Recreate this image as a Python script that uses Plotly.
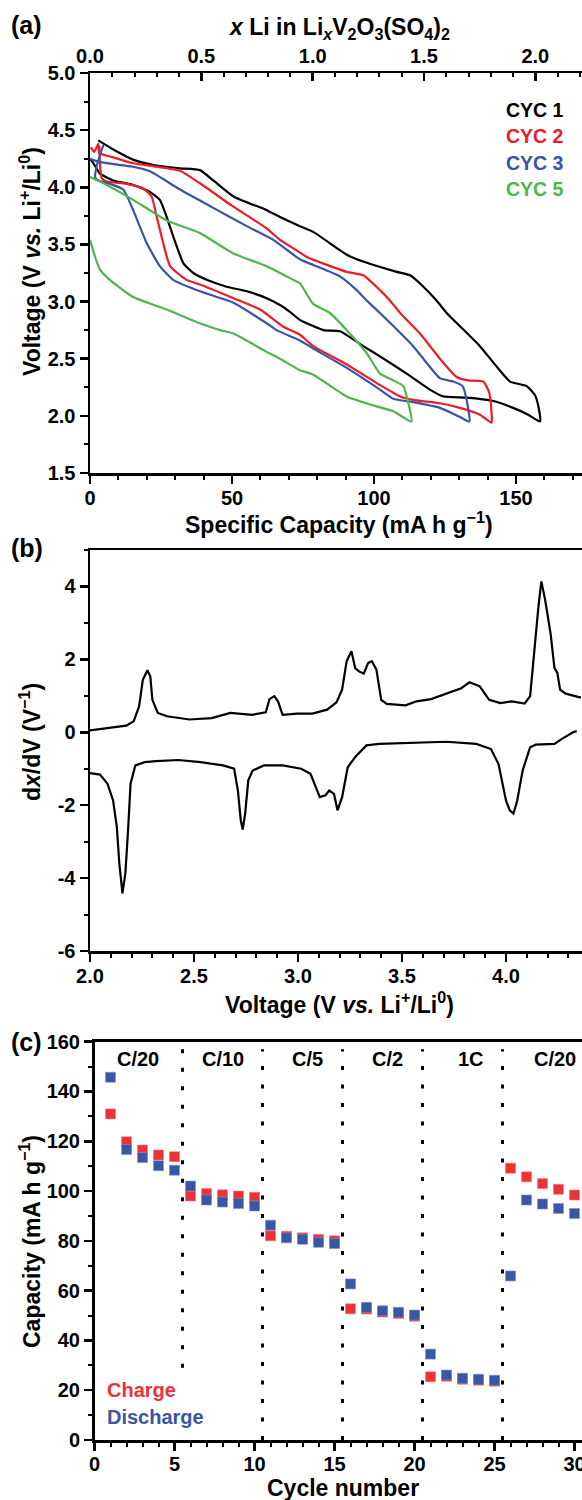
import plotly.graph_objects as go

# ---------------- Panel (a): voltage profiles ----------------
cyc1_cap = [2.9, 8.2, 15.3, 22.3, 31.7, 38.7, 43.4, 50.5, 62.2, 66.9, 73.9, 78.6, 90.4, 96.2, 108.0, 112.7,
            117.4, 122.0, 125.6, 137.3, 143.2, 147.9, 153.8, 156.7, 157.9, 158.5,
            154.3, 149.0, 142.0, 132.6, 124.4, 119.7, 111.5, 102.1, 96.2, 88.0, 82.2, 73.9, 70.4, 66.9,
            62.2, 55.2, 48.1, 41.1, 36.4, 32.9, 29.3, 27.0, 24.6, 21.1, 15.2, 8.2, 3.5, 1.2, 0.0]
cyc1_v = [4.41, 4.33, 4.24, 4.195, 4.166, 4.15, 4.06, 3.92, 3.80, 3.74, 3.66, 3.61, 3.41, 3.35, 3.26, 3.23,
          3.13, 3.01, 2.90, 2.61, 2.43, 2.30, 2.26, 2.18, 2.08, 1.95,
          2.01, 2.07, 2.13, 2.16, 2.17, 2.23, 2.37, 2.52, 2.61, 2.74, 2.75, 2.84, 2.91, 2.97,
          3.03, 3.09, 3.13, 3.19, 3.25, 3.335, 3.57, 3.74, 3.89, 3.96, 4.02, 4.06, 4.12, 4.21, 4.25]

cyc2_cap = [0.3, 1.5, 2.9, 3.2, 7.0, 15.2, 23.5, 31.7, 38.7, 50.5, 62.2, 66.9, 73.9, 76.3, 90.4, 96.2,
            102.1, 105.6, 109.2, 116.2, 123.2, 129.1, 133.2, 138.5, 140.6, 141.4, 141.4,
            137.3, 130.3, 123.2, 113.8, 109.2, 102.1, 90.4, 78.6, 73.9, 68.1, 59.9, 50.5, 38.7, 34.0,
            28.2, 25.8, 23.5, 21.7, 18.8, 12.9, 5.9, 4.1, 3.5, 3.3]
cyc2_v = [4.35, 4.31, 4.38, 4.30, 4.27, 4.21, 4.18, 4.145, 4.035, 3.83, 3.64, 3.54, 3.43, 3.39, 3.26, 3.23,
          3.10, 3.01, 2.90, 2.72, 2.50, 2.34, 2.31, 2.30, 2.20, 2.02, 1.94,
          2.01, 2.07, 2.11, 2.14, 2.17, 2.27, 2.45, 2.61, 2.71, 2.78, 2.93, 3.03, 3.15, 3.19,
          3.31, 3.51, 3.74, 3.92, 3.99, 4.03, 4.05, 4.08, 4.21, 4.36]

cyc3_cap = [0.0, 3.5, 15.2, 21.1, 31.7, 43.4, 55.2, 64.5, 73.9, 78.6, 88.0, 93.9, 97.4, 102.1, 113.8,
            123.2, 127.9, 131.2, 132.6, 133.6,
            130.3, 123.2, 113.8, 106.8, 102.1, 90.4, 78.6, 73.9, 65.7, 62.2, 50.5, 38.7, 29.3, 24.6,
            20.0, 15.2, 11.7, 7.0, 2.9, 1.8, 2.5, 4.7]
cyc3_v = [4.25, 4.22, 4.18, 4.14, 3.98, 3.82, 3.66, 3.54, 3.37, 3.32, 3.22, 3.10, 3.01, 2.90, 2.61,
          2.33, 2.30, 2.26, 2.14, 1.95,
          1.99, 2.07, 2.12, 2.15, 2.23, 2.42, 2.59, 2.66, 2.75, 2.81, 2.99, 3.09, 3.19, 3.31,
          3.51, 3.80, 3.98, 4.03, 4.06, 4.09, 4.20, 4.37]

cyc5_cap = [0.0, 3.5, 15.2, 27.0, 38.7, 50.5, 62.2, 71.6, 73.9, 78.6, 84.5, 90.4, 97.4, 102.1, 106.8,
            110.3, 112.1, 113.2,
            106.8, 98.6, 90.4, 78.6, 73.9, 66.9, 62.2, 50.5, 45.8, 38.7, 27.0, 15.2, 7.0, 3.5, 1.8, 0.0]
cyc5_v = [4.09, 4.05, 3.89, 3.71, 3.60, 3.42, 3.31, 3.19, 3.16, 2.98, 2.90, 2.75, 2.55, 2.37, 2.31,
          2.26, 2.11, 1.95,
          2.04, 2.10, 2.17, 2.36, 2.40, 2.50, 2.56, 2.72, 2.75, 2.81, 2.93, 3.04, 3.19, 3.28, 3.39, 3.54]

cycle_names = ["CYC 1", "CYC 2", "CYC 3", "CYC 5"]
cycle_colors = ["#000000", "#EE1C25", "#3A53A4", "#4DB748"]
cap_per_li = 78.4  # mA h g-1 per Li

# ---------------- Panel (b): dx/dV ----------------
ox_v = [2.0, 2.10, 2.174, 2.21, 2.236, 2.254, 2.276, 2.29, 2.30, 2.326, 2.37, 2.478, 2.585, 2.675, 2.78,
        2.845, 2.863, 2.886, 2.904, 2.926, 2.997, 3.069, 3.14, 3.185, 3.212, 3.234, 3.257, 3.275, 3.293,
        3.316, 3.337, 3.355, 3.377, 3.40, 3.427, 3.517, 3.57, 3.64, 3.71, 3.785, 3.824, 3.874, 3.919,
        3.973, 4.027, 4.09, 4.116, 4.134, 4.156, 4.17, 4.188, 4.215, 4.233, 4.247, 4.26, 4.287, 4.34, 4.36]
ox_dxdv = [0.05, 0.12, 0.18, 0.30, 0.71, 1.44, 1.70, 1.53, 0.89, 0.53, 0.44, 0.35, 0.39, 0.53, 0.48,
           0.55, 0.91, 0.99, 0.85, 0.48, 0.51, 0.51, 0.62, 0.82, 1.17, 1.95, 2.22, 1.76, 1.67,
           1.61, 1.90, 1.95, 1.72, 0.89, 0.78, 0.74, 0.85, 0.91, 1.06, 1.21, 1.37, 1.26, 0.89,
           0.80, 0.85, 0.79, 0.99, 2.17, 3.45, 4.14, 3.64, 2.68, 1.76, 1.63, 1.17, 1.06, 0.99, 0.95]

red_v = [2.0, 2.048, 2.084, 2.111, 2.129, 2.141, 2.156, 2.17, 2.183, 2.195, 2.218, 2.263, 2.317, 2.424,
         2.532, 2.639, 2.693, 2.711, 2.725, 2.734, 2.746, 2.761, 2.782, 2.836, 2.926, 3.015, 3.06,
         3.087, 3.105, 3.132, 3.15, 3.173, 3.19, 3.212, 3.239, 3.275, 3.329, 3.39, 3.535, 3.713,
         3.857, 3.928, 3.964, 4.0, 4.018, 4.036, 4.054, 4.08, 4.116, 4.143, 4.233, 4.269, 4.322, 4.34]
red_dxdv = [-1.12, -1.16, -1.41, -1.87, -2.60, -3.60, -4.42, -3.87, -2.69, -1.41, -0.91, -0.82, -0.79, -0.76,
            -0.82, -0.91, -1.00, -1.60, -2.42, -2.67, -2.23, -1.32, -1.05, -0.91, -0.91, -1.00, -1.14,
            -1.50, -1.78, -1.73, -1.60, -1.69, -2.14, -1.78, -0.96, -0.68, -0.36, -0.32, -0.29, -0.26,
            -0.32, -0.46, -0.87, -1.87, -2.14, -2.23, -1.87, -1.05, -0.41, -0.34, -0.32, -0.18, 0.0, 0.03]

# ---------------- Panel (c): rate capability ----------------
cycles = list(range(1, 31))
charge_cap = [131.0, 119.8, 116.5, 114.5, 113.8, 98.0, 99.0, 98.5, 98.0, 97.5,
              82.0, 81.8, 81.2, 80.6, 80.0, 52.7, 52.6, 51.4, 50.8, 49.7,
              25.4, 25.6, 24.4, 24.0, 23.6, 109.2, 105.7, 103.0, 100.7, 98.4]
discharge_cap = [145.7, 116.7, 113.5, 110.2, 108.4, 102.0, 96.4, 95.6, 95.0, 94.0,
                 86.3, 81.2, 80.6, 79.4, 78.9, 62.7, 53.3, 51.9, 51.3, 50.2,
                 34.5, 26.1, 24.8, 24.4, 24.0, 65.9, 96.4, 94.8, 93.0, 91.0]
rate_labels = ["C/20", "C/10", "C/5", "C/2", "1C", "C/20"]
rate_label_x = [2.7, 8.0, 13.3, 18.3, 23.5, 28.8]
divider_x = [5.5, 10.5, 15.5, 20.5, 25.5]
divider_bottom = [29.0, 0.0, 0.0, 0.0, 0.0]
divider_top = 157.0

# ---------------- layout helpers (page pixels -> paper fractions) ----------------
W, H = 582, 1500
def px(x):
    return x / W
def py(y):
    return 1 - y / H

FONT = "Liberation Sans, Arial, sans-serif"
TICKF = dict(family=FONT, size=20, color="black", weight="bold")
AX = dict(showgrid=False, zeroline=False, showline=True, linecolor="black", linewidth=2.5,
          ticks="outside", ticklen=8, tickwidth=2.5, tickcolor="black", tickfont=TICKF,
          fixedrange=True, automargin=False, ticklabeloverflow="allow")
def MINOR(dt, where="outside"):
    return dict(ticks=where, dtick=dt, ticklen=4, tickwidth=2, tickcolor="black")

fig = go.Figure()

for name, col, cx, cy in zip(cycle_names, cycle_colors,
                             [cyc1_cap, cyc2_cap, cyc3_cap, cyc5_cap],
                             [cyc1_v, cyc2_v, cyc3_v, cyc5_v]):
    fig.add_trace(go.Scatter(x=cx, y=cy, mode="lines", name=name,
                             line=dict(color=col, width=2.2, shape="spline", smoothing=0.5),
                             xaxis="x", yaxis="y", showlegend=False))
# carrier for the top (x Li) axis
fig.add_trace(go.Scatter(x=[c / cap_per_li for c in cyc1_cap], y=cyc1_v, mode="lines",
                         line=dict(width=0), opacity=0, xaxis="x4", yaxis="y",
                         showlegend=False, hoverinfo="skip"))

fig.add_trace(go.Scatter(x=ox_v, y=ox_dxdv, mode="lines", line=dict(color="black", width=2.2),
                         xaxis="x2", yaxis="y2", showlegend=False))
fig.add_trace(go.Scatter(x=red_v, y=red_dxdv, mode="lines", line=dict(color="black", width=2.2),
                         xaxis="x2", yaxis="y2", showlegend=False))

dx, dy = [], []
for xv, yb in zip(divider_x, divider_bottom):
    dx += [xv, xv, None]
    dy += [yb, divider_top, None]
fig.add_trace(go.Scatter(x=dx, y=dy, mode="lines", line=dict(color="black", width=3, dash="4px,14.5px"),
                         xaxis="x3", yaxis="y3", showlegend=False, hoverinfo="skip"))
fig.add_trace(go.Scatter(x=cycles, y=charge_cap, mode="markers", name="Charge",
                         marker=dict(symbol="square", size=10, color="#ED3237",
                                     line=dict(color="#F47A7A", width=0.6)),
                         xaxis="x3", yaxis="y3", showlegend=False))
fig.add_trace(go.Scatter(x=cycles, y=discharge_cap, mode="markers", name="Discharge",
                         marker=dict(symbol="square", size=10, color="#3A56A5",
                                     line=dict(color="#7D8FC8", width=0.6)),
                         xaxis="x3", yaxis="y3", showlegend=False))

x_a_max = (582 - 90) / 2.84
fig.update_layout(
    width=W, height=H, margin=dict(l=0, r=0, t=0, b=0, autoexpand=False),
    paper_bgcolor="white", plot_bgcolor="white", showlegend=False,
    font=dict(family=FONT, color="black", weight="bold"),
    xaxis=dict(AX, domain=[px(90), 1], anchor="y", range=[0, x_a_max],
               tickvals=[0, 50, 100, 150], ticklabelstandoff=-3, minor=MINOR(10)),
    xaxis4=dict(AX, overlaying="x", side="top", anchor="y", range=[0, x_a_max / cap_per_li],
                ticks="inside", dtick=0.5, tickformat=".1f", minor=MINOR(0.1, "inside")),
    yaxis=dict(AX, domain=[py(473), py(73)], anchor="x", range=[1.5, 5.0], dtick=0.5, tickformat=".1f",
               minor=MINOR(0.25)),
    xaxis2=dict(AX, domain=[px(90), 1], anchor="y2", range=[2.0, 2.0 + (582 - 90) / 208.0],
                dtick=0.5, tickformat=".1f", mirror=True, ticklabelstandoff=-3, minor=MINOR(0.1)),
    yaxis2=dict(AX, domain=[py(951), py(550)], anchor="x2", range=[-6, 5],
                tickvals=[-6, -4, -2, 0, 2, 4], ticktext=["-6", "-4", "-2", "0", "2", "4"],
                minor=MINOR(1)),
    xaxis3=dict(AX, domain=[px(94.5), 1], anchor="y3", range=[0, (582 - 94.5) / 16.0],
                dtick=5, mirror=True, ticklabelstandoff=-4, minor=MINOR(1)),
    yaxis3=dict(AX, domain=[py(1440), py(1041.7)], anchor="x3", range=[0, 160], dtick=20,
                minor=MINOR(10)),
)

ann = []
def A(text, x, y, size=23, color="black", angle=0, xanchor="center", xref="paper", yref="paper"):
    ann.append(dict(text=text, x=x, y=y, xref=xref, yref=yref, showarrow=False, textangle=angle,
                    xanchor=xanchor, yanchor="middle",
                    font=dict(family=FONT, size=size, color=color, weight="bold")))

A("(a)", px(9), py(25), size=25, xanchor="left")
A("<i>x</i> Li in Li<sub><i>x</i></sub>V<sub>2</sub>O<sub>3</sub>(SO<sub>4</sub>)<sub>2</sub>", px(339), py(28))
A("Voltage (V <i>vs.</i> Li<sup>+</sup>/Li<sup>0</sup>)", px(30), py(262), angle=-90)
A("Specific Capacity (mA h g<sup>\u22121</sup>)", px(339), py(523))
for name, col, yy in zip(cycle_names, cycle_colors, [110, 136, 162.7, 189]):
    A(name, px(566), py(yy), size=19.5, color=col, xanchor="right")

A("(b)", px(9), py(548), size=25, xanchor="left")
A("d<i>x</i>/dV (V<sup>\u22121</sup>)", px(30), py(742), angle=-90)
A("Voltage (V <i>vs.</i> Li<sup>+</sup>/Li<sup>0</sup>)", px(339), py(1003))

A("(c)", px(9), py(1042), size=25, xanchor="left")
A("Capacity (mA h g<sup>\u22121</sup>)", px(30), py(1242), angle=-90)
A("Cycle number", px(343), py(1488))
A("Charge", px(105), py(1390), size=20, color="#ED3237", xanchor="left")
A("Discharge", px(105), py(1417), size=20, color="#3A56A5", xanchor="left")
for lab, lx in zip(rate_labels, rate_label_x):
    A(lab, lx, 153.0, size=20, xref="x3", yref="y3")

fig.update_layout(annotations=ann)

fig.write_html("out.html", config={"displayModeBar": False, "staticPlot": True},
               post_script="document.body.style.margin='0';")
